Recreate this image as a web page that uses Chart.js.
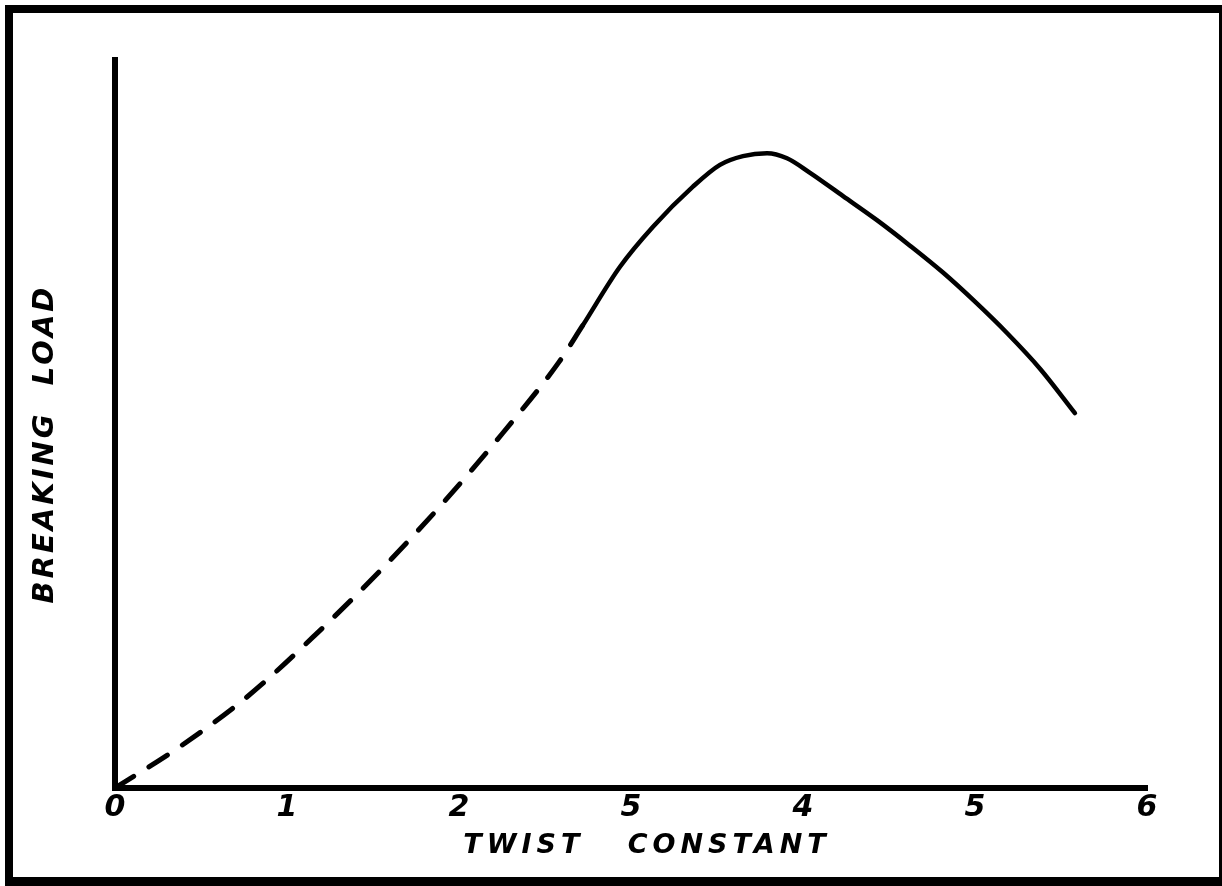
<!DOCTYPE html>
<html>
<head>
<meta charset="utf-8">
<script src="https://cdn.jsdelivr.net/npm/chart.js@4.4.1/dist/chart.umd.min.js"></script>
<style>
html, body { margin: 0; padding: 0; background: #fff; }
#wrap { position: relative; width: 1222px; height: 886px; overflow: hidden; }
#wrap canvas { position: absolute; left: 0; top: 0; }
#frame {
    position: absolute; left: 5px; top: 5px; right: 0; bottom: 0;
    border-left: 8px solid #000; border-top: 8px solid #000;
    border-right: 3px solid #000; border-bottom: 9px solid #000;
    pointer-events: none;
}
</style>
</head>
<body>
<div id="wrap">
    <canvas id="twistChart" width="1222" height="886"></canvas>
    <div id="frame"></div>
</div>
<script>
// values (load in arbitrary units, 0-100 = full height of the axis)
const tickLabels = ["0", "1", "2", "5", "4", "5", "6"];

// low twist part, drawn dashed
const twistDashed = [0, 0.366, 0.767, 1.163, 1.552, 1.924, 2.256, 2.581, 2.721];
const loadDashed  = [0, 5.5, 12.5, 21.0, 30.1, 39.6, 48.8, 58.5, 63.6];

// measured part, solid line
const twistSolid = [2.721, 2.936, 3.128, 3.360, 3.517, 3.651, 3.791, 3.907, 4.041, 4.233, 4.430, 4.622, 4.814, 5.0, 5.186, 5.378, 5.581];
const loadSolid  = [63.6, 71.6, 77.1, 82.6, 85.6, 86.8, 87.2, 86.5, 84.5, 81.3, 78.0, 74.5, 70.8, 66.8, 62.5, 57.6, 51.5];

const xTitle = "TWIST   CONSTANT";
const yTitle = "BREAKING  LOAD";

const inkColor = "#000000";
const handFont = '"DejaVu Sans"';

function toPoints(xs, ys) {
    var pts = [];
    for (var i = 0; i < xs.length; i++) {
        pts.push({ x: xs[i], y: ys[i] });
    }
    return pts;
}

// hand lettered axis titles, spaced out like the original
const axisTitles = {
    id: 'axisTitles',
    afterDraw: function (chart) {
        var ctx = chart.ctx;
        var area = chart.chartArea;
        ctx.save();
        ctx.fillStyle = inkColor;
        ctx.textAlign = 'center';
        ctx.textBaseline = 'middle';

        ctx.font = 'italic bold 27px ' + handFont;
        ctx.letterSpacing = '5px';
        ctx.fillText(xTitle, (area.left + area.right) / 2 + 16, area.bottom + 58);

        ctx.font = 'italic bold 29px ' + handFont;
        ctx.letterSpacing = '3px';
        ctx.translate(45, (area.top + area.bottom) / 2 + 20);
        ctx.rotate(-Math.PI / 2);
        ctx.fillText(yTitle, 0, 0);
        ctx.restore();
    }
};

var ctx = document.getElementById("twistChart");
var twistChart = new Chart(ctx, {
    type: 'line',
    data: {
        datasets: [{
            data: toPoints(twistDashed, loadDashed),
            borderColor: inkColor,
            borderWidth: 5,
            borderDash: [22, 18],
            borderCapStyle: 'round',
            pointRadius: 0,
            cubicInterpolationMode: 'monotone',
            fill: false
        }, {
            data: toPoints(twistSolid, loadSolid),
            borderColor: inkColor,
            borderWidth: 4.5,
            borderCapStyle: 'round',
            borderJoinStyle: 'round',
            pointRadius: 0,
            cubicInterpolationMode: 'monotone',
            fill: false
        }]
    },
    options: {
        responsive: false,
        animation: false,
        layout: {
            padding: { top: 60, right: 75, left: 0, bottom: 0 }
        },
        plugins: {
            legend: { display: false },
            tooltip: { enabled: false }
        },
        scales: {
            x: {
                type: 'linear',
                min: 0,
                max: 6,
                grid: { display: false, drawTicks: false },
                border: { color: inkColor, width: 6 },
                ticks: {
                    stepSize: 1,
                    padding: 2,
                    color: inkColor,
                    font: { family: handFont, size: 30, weight: 'bold', style: 'italic' },
                    callback: function (value, index) { return tickLabels[index]; }
                },
                afterFit: function (scale) { scale.height = 98; }
            },
            y: {
                min: 0,
                max: 100,
                grid: { display: false, drawTicks: false },
                border: { color: inkColor, width: 6 },
                ticks: { display: false },
                afterFit: function (scale) { scale.width = 115; }
            }
        }
    },
    plugins: [axisTitles]
});
</script>
</body>
</html>
